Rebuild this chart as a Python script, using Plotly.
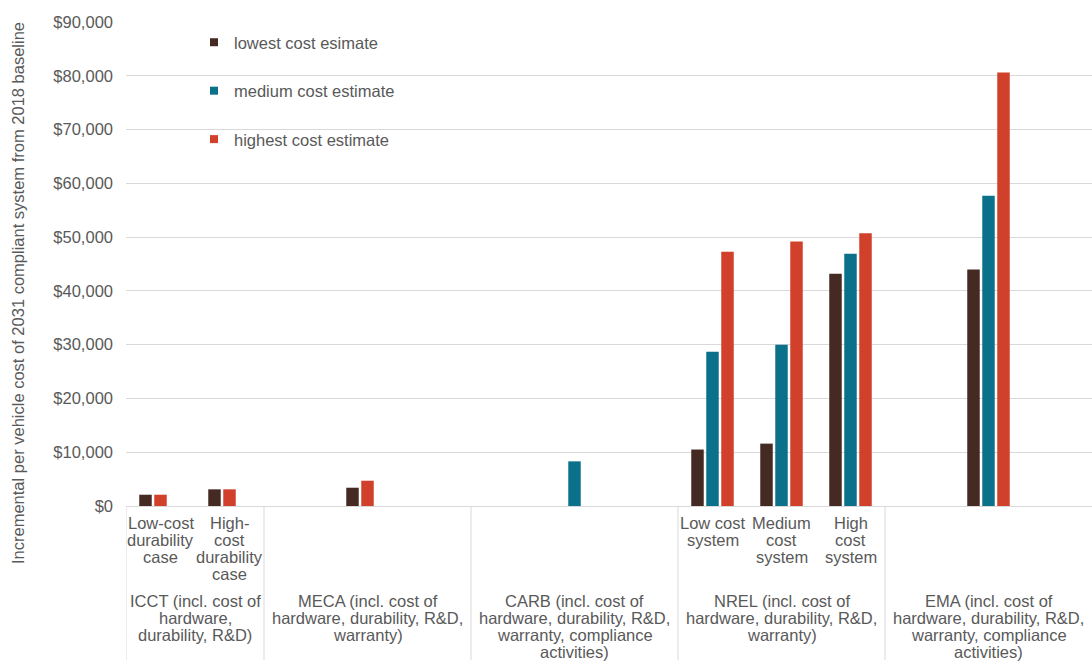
import plotly.graph_objects as go

# ---------------- data ----------------
group_labels = [
    "ICCT (incl. cost of\nhardware,\ndurability, R&D)",
    "MECA (incl. cost of\nhardware, durability, R&D,\nwarranty)",
    "CARB (incl. cost of\nhardware, durability, R&D,\nwarranty, compliance\nactivities)",
    "NREL (incl. cost of\nhardware, durability, R&D,\nwarranty)",
    "EMA (incl. cost of\nhardware, durability, R&D,\nwarranty, compliance\nactivities)",
]
group_sizes = [2, 3, 3, 3, 3]
sub_labels = [
    "Low-cost\ndurability\ncase", "High-\ncost\ndurability\ncase",
    "", "", "",
    "", "", "",
    "Low cost\nsystem", "Medium\ncost\nsystem", "High\ncost\nsystem",
    "", "", "",
]
series_names = ["lowest cost esimate", "medium cost estimate", "highest cost estimate"]
lowest = [2100, 3100, None, 3400, None, None, None, None, 10500, 11600, 43200, None, 44000, None]
medium = [None, None, None, None, None, None, 8300, None, 28700, 30000, 46900, None, 57700, None]
highest = [2100, 3100, None, 4700, None, None, None, None, 47300, 49200, 50700, None, 80600, None]
y_ticks = [0, 10000, 20000, 30000, 40000, 50000, 60000, 70000, 80000, 90000]
y_ticktext = ["$" + f"{v:,}" for v in y_ticks]
y_title = "Incremental per vehicle cost of 2031 compliant system from 2018 baseline"

# ---------------- style ----------------
colors = ["#452A24", "#0B718A", "#D1402B"]
text_color = "#595959"
grid_color = "#D9D9D9"
FONT = "Liberation Sans, Arial, Helvetica, sans-serif"
W, H = 1092, 666
ML, MR, MT, MB = 126, 0, 22, 160
PW, PH = W - ML - MR, H - MT - MB

def px_y(py):  # pixel y -> paper y
    return (H - MB - py) / PH

def px_x(px):
    return (px - ML) / PW

n = len(sub_labels)
xs = list(range(n))
pitch = 0.2174
bw = 0.181
def slot_offset(k):
    return -1.5 * pitch + k * pitch + (pitch - bw) / 2

fig = go.Figure()
series = [lowest, medium, highest]
for si, vals in enumerate(series):
    if si == 2:
        offs = [slot_offset(1) if medium[i] is None else slot_offset(2) for i in range(n)]
    else:
        offs = [slot_offset(si)] * n
    fig.add_trace(go.Bar(
        x=xs, y=vals, width=bw, offset=offs,
        marker=dict(color=colors[si], line=dict(width=0)),
        name=series_names[si], showlegend=False, hoverinfo="y",
    ))
# legend entries
for si in range(3):
    fig.add_trace(go.Scatter(
        x=[None], y=[None], mode="markers",
        marker=dict(symbol="square", size=8, color=colors[si]),
        name=series_names[si], legendgroup=f"g{si}", showlegend=True,
    ))

annotations = []
line_h = 17
# sub category labels
for i, lab in enumerate(sub_labels):
    if not lab:
        continue
    for li, line in enumerate(lab.split("\n")):
        annotations.append(dict(
            x=i, y=0, xref="x", yref="paper", text=line, showarrow=False,
            xanchor="center", yanchor="middle", yshift=-(17 + li * line_h),
            font=dict(family=FONT, size=16.5, color=text_color),
        ))
# group labels and dividers
shapes = []
start = 0
bottom = px_y(660)
for gi, (glab, gs) in enumerate(zip(group_labels, group_sizes)):
    center = start + (gs - 1) / 2
    for li, line in enumerate(glab.split("\n")):
        annotations.append(dict(
            x=center, y=0, xref="x", yref="paper", text=line, showarrow=False,
            xanchor="center", yanchor="middle", yshift=-(94.5 + li * line_h),
            font=dict(family=FONT, size=16.5, color=text_color),
        ))
    shapes.append(dict(type="line", xref="x", yref="paper",
                       x0=start - 0.5, x1=start - 0.5, y0=0, y1=bottom,
                       line=dict(color=grid_color, width=1)))
    start += gs

annotations.append(dict(
    x=px_x(18), y=px_y(293), xref="paper", yref="paper", text=y_title,
    showarrow=False, textangle=-90, xanchor="center", yanchor="middle",
    font=dict(family=FONT, size=16.5, color=text_color),
))

fig.update_layout(
    width=W, height=H,
    margin=dict(l=ML, r=MR, t=MT, b=MB),
    paper_bgcolor="white", plot_bgcolor="white",
    barmode="overlay",
    font=dict(family=FONT, size=16.5, color=text_color),
    xaxis=dict(range=[-0.5, n - 0.5], showticklabels=False, showgrid=False,
               zeroline=False, showline=False, ticks=""),
    yaxis=dict(range=[0, 90000], tickvals=y_ticks, ticktext=y_ticktext,
               showgrid=True, gridcolor=grid_color, gridwidth=1,
               zeroline=True, zerolinecolor=grid_color, zerolinewidth=1,
               showline=False, ticks="", ticklabelstandoff=12,
               tickfont=dict(family=FONT, size=16.5, color=text_color)),
    legend=dict(x=px_x(194), y=px_y(25), xanchor="left", yanchor="top",
                bgcolor="rgba(0,0,0,0)", tracegroupgap=24,
                font=dict(family=FONT, size=16.5, color=text_color)),
    annotations=annotations, shapes=shapes,
    showlegend=True,
)

fig.write_html("out.html", config={"displayModeBar": False},
               post_script="document.body.style.margin='0';")
